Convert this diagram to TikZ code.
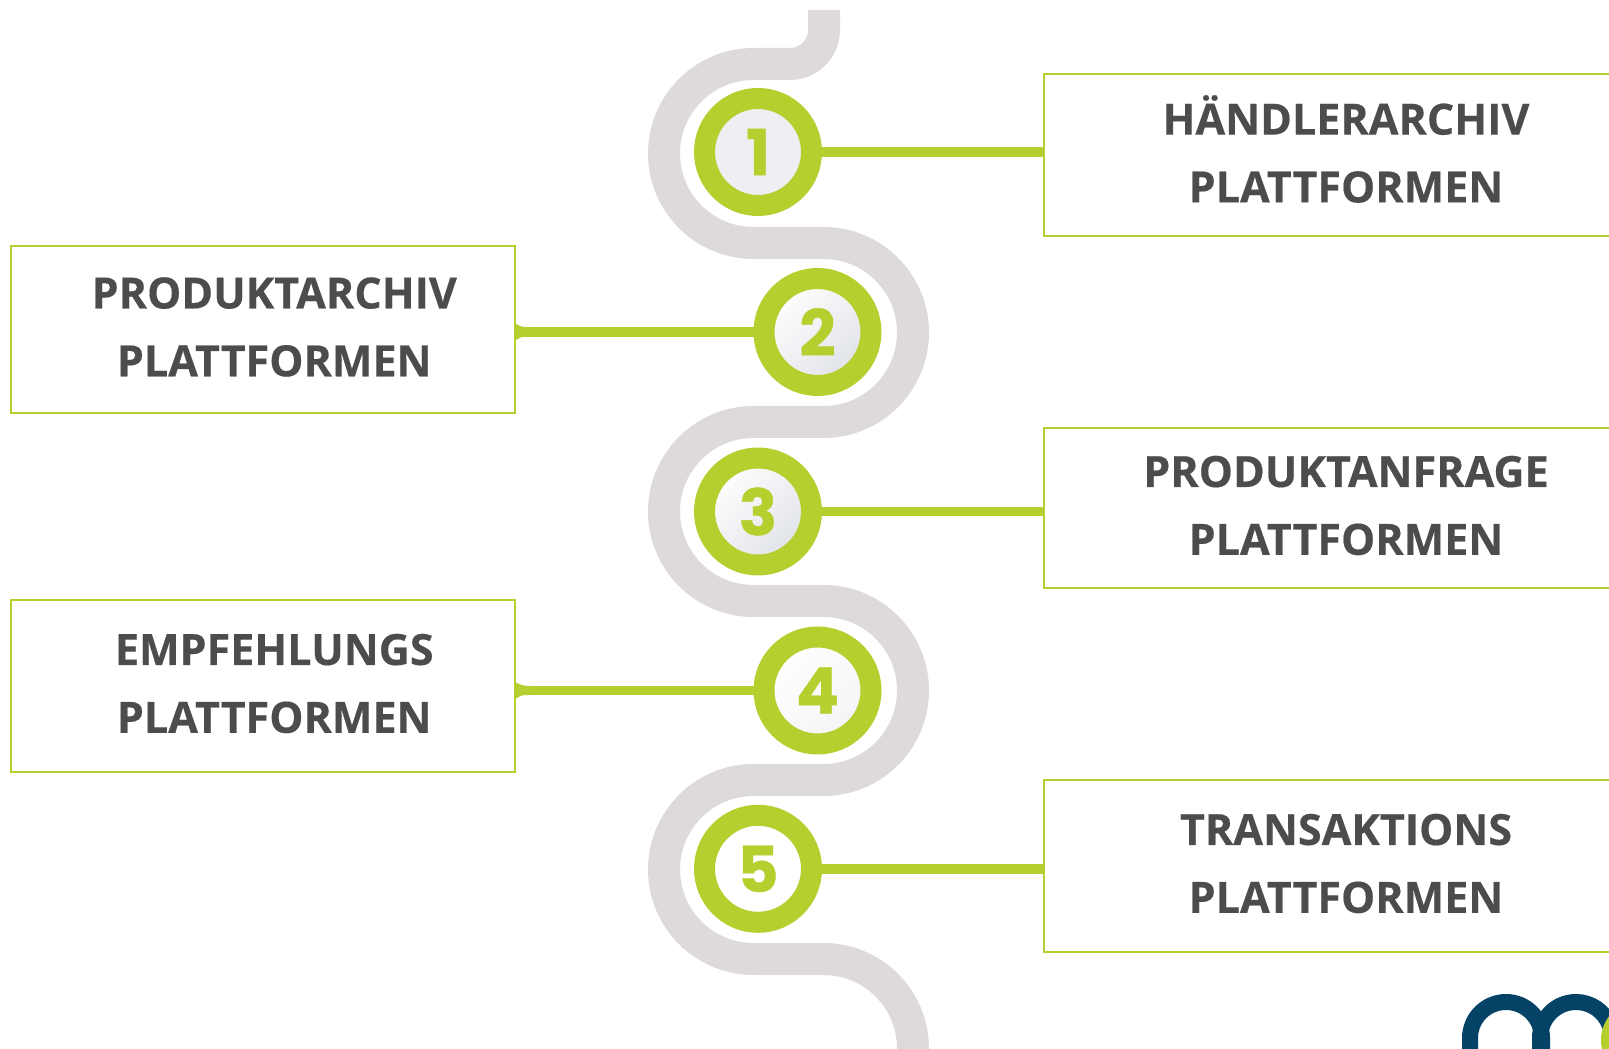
\documentclass[tikz,border=0pt]{standalone}
\usepackage{fontspec}
\newfontfamily\platfont{Open Sans Bold}[FakeBold=0.35]
\newfontfamily\digitfont{Poppins Bold}[FakeBold=0.6]
\usepackage{tikz}
\usetikzlibrary{positioning}
\definecolor{LeafGreen}{HTML}{B5CF2E}
\definecolor{PathGrey}{HTML}{DEDAD9}
\definecolor{DiscGrey}{HTML}{EFEFF3}
\definecolor{DiscShade}{HTML}{DFE2E8}
\definecolor{DiscLite}{HTML}{F3F4F6}
\definecolor{LabelGrey}{HTML}{4C4C4C}
\definecolor{LogoBlue}{HTML}{044365}
\tikzset{%
  snake_path/.style={%
    draw=PathGrey,%
    line width=0.32in,%
    line join=round,%
  },
  step_ring/.style={%
    circle,%
    draw=LeafGreen,%
    line width=0.21in,%
    fill=white,%
    minimum size=1.07in,%
    inner sep=0pt,%
    text=LeafGreen,%
    font={\digitfont\fontsize{46}{46}\selectfont},%
  },
  shaded_disc/.style={%
    top color=white,%
    bottom color=#1,%
    shading angle=45,%
  },
  plat_box/.style={%
    rectangle,%
    draw=LeafGreen,%
    line width=0.02in,%
    fill=white,%
  },
  plat_label/.style={%
    align=center,%
    text=LabelGrey,%
    inner sep=0pt,%
    font={\platfont\fontsize{31.1}{49}\selectfont},%
  },
  link_path/.style={%
    draw=LeafGreen,%
    line width=0.095in,%
  },
  logo_arc/.style={%
    draw=LogoBlue,%
    line width=0.16in,%
  },
}
\begin{document}
\begin{tikzpicture}[x=1in, y=1in]

    \clip (0, 0) rectangle (16.09, 10.49);

    \draw [snake_path]
      (8.24, 10.39)
      --
      ++(0, -0.20)
      arc [start angle=0, end angle=-90, radius=0.34]
      --
      ++(-0.365, 0)
      arc [start angle=90, end angle=270, radius=0.895]
      --
      ++(0.70, 0)
      arc [start angle=90, end angle=-90, radius=0.895]
      --
      ++(-0.70, 0)
      arc [start angle=90, end angle=270, radius=0.895]
      --
      ++(0.70, 0)
      arc [start angle=90, end angle=-90, radius=0.895]
      --
      ++(-0.70, 0)
      arc [start angle=90, end angle=270, radius=0.895]
      --
      ++(0.70, 0)
      arc [start angle=90, end angle=0, radius=0.895]
      --
      ++(0, -0.10);

    \node [step_ring, fill=DiscGrey] (Ring1) at (7.58, 8.97) {1};
    \node [step_ring, shaded_disc=DiscShade] (Ring2) at (8.175, 7.17) {2};
    \node [step_ring, shaded_disc=DiscShade, below = 2.315 of Ring1] (Ring3) {3};
    \node [step_ring, shaded_disc=DiscLite, below = 2.305 of Ring2] (Ring4) {4};
    \node [step_ring, below = 2.293 of Ring3] (Ring5) {5};

    \node [plat_box, minimum width=6.05in, minimum height=1.62in,
      right = 2.205 of Ring1, yshift=-0.03in] (Box1) {};
    \node [plat_box, minimum width=5.035in, minimum height=1.665in,
      left = 2.375 of Ring2, yshift=0.025in] (Box2) {};
    \node [plat_box, minimum width=6.05in, minimum height=1.60in,
      right = 2.205 of Ring3, yshift=0.035in] (Box3) {};
    \node [plat_box, minimum width=5.035in, minimum height=1.726in,
      left = 2.375 of Ring4, yshift=0.045in] (Box4) {};
    \node [plat_box, minimum width=6.05in, minimum height=1.72in,
      right = 2.205 of Ring5, yshift=0.028in] (Box5) {};

    \node [plat_label, yshift=0.06in] (Label1) at (Box1) {%
      HÄNDLERARCHIV\\PLATTFORMEN%
    };
    \node [plat_label, xshift=0.11in, yshift=0.025in] (Label2) at (Box2) {%
      PRODUKTARCHIV\\PLATTFORMEN%
    };
    \node [plat_label, yshift=0.025in] (Label3) at (Box3) {%
      PRODUKTANFRAGE\\PLATTFORMEN%
    };
    \node [plat_label, xshift=0.11in, yshift=0.025in] (Label4) at (Box4) {%
      EMPFEHLUNGS\\PLATTFORMEN%
    };
    \node [plat_label, yshift=0.025in] (Label5) at (Box5) {%
      TRANSAKTIONS\\PLATTFORMEN%
    };

    \draw [link_path] (Ring1.east) -- (Ring1 -| Box1.west);
    \draw [link_path] (Ring2.west) -- (Ring2 -| Box2.east);
    \draw [link_path] (Ring3.east) -- (Ring3 -| Box3.west);
    \draw [link_path] (Ring4.west) -- (Ring4 -| Box4.east);
    \draw [link_path] (Ring5.east) -- (Ring5 -| Box5.west);

    % small flares where the links meet the left boxes
    \fill [LeafGreen]
      (Ring2 -| Box2.east)
      ++(0, 0.08)
      .. controls ++(0.06, -0.03) .. ++(0.14, -0.035)
      --
      ++(0, -0.09)
      .. controls ++(-0.08, 0) .. ++(-0.14, -0.035)
      -- cycle;
    \fill [LeafGreen]
      (Ring4 -| Box4.east)
      ++(0, 0.08)
      .. controls ++(0.06, -0.03) .. ++(0.14, -0.035)
      --
      ++(0, -0.09)
      .. controls ++(-0.08, 0) .. ++(-0.14, -0.035)
      -- cycle;

    % logo in the corner
    \draw [logo_arc] (14.70, -0.10) -- (14.70, 0.11)
      arc [start angle=180, end angle=0, radius=0.36]
      -- (15.42, -0.10);
    \draw [logo_arc] (15.40, -0.10) -- (15.40, 0.11)
      arc [start angle=180, end angle=20, radius=0.36];
    \fill [LeafGreen] (16.40, 0.09) circle [radius=0.39];
  \end{tikzpicture}
\end{document}
